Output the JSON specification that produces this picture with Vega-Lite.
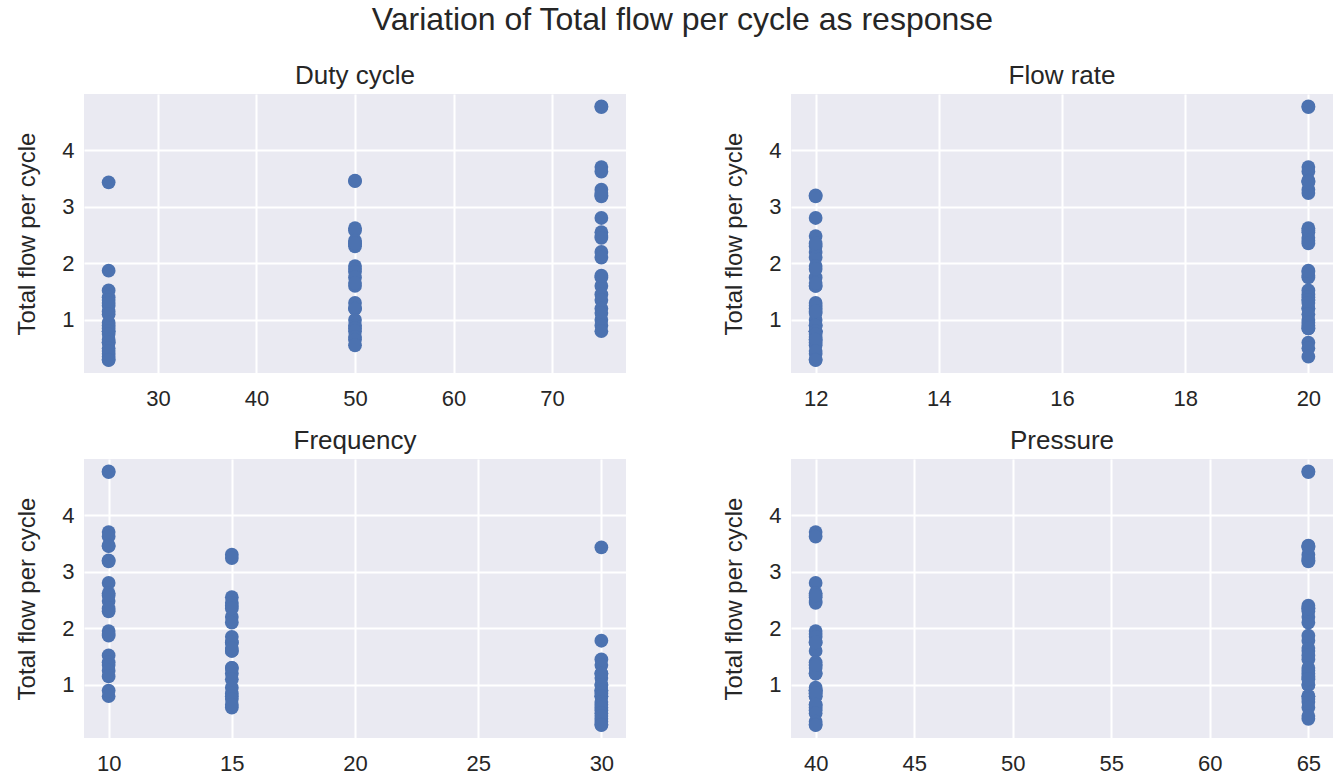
{
  "$schema": "https://vega.github.io/schema/vega-lite/v6.json",
  "background": "white",
  "padding": {"left": 15, "top": 4, "right": 5, "bottom": 5},
  "title": {"text": "Variation of Total flow per cycle as response", "fontSize": 32, "font": "Liberation Sans", "fontWeight": "normal", "color": "#262626", "anchor": "middle", "offset": 26, "dx": 8},
  "data": {"values": [
    {"duty":75,"flow":20,"freq":10,"pressure":65,"total":4.77},{"duty":75,"flow":20,"freq":10,"pressure":65,"total":4.76},
    {"duty":75,"flow":20,"freq":10,"pressure":40,"total":3.70},{"duty":75,"flow":20,"freq":10,"pressure":40,"total":3.62},
    {"duty":75,"flow":12,"freq":10,"pressure":65,"total":3.20},{"duty":75,"flow":12,"freq":10,"pressure":65,"total":3.18},
    {"duty":75,"flow":12,"freq":10,"pressure":40,"total":2.48},{"duty":75,"flow":12,"freq":10,"pressure":40,"total":2.80},
    {"duty":75,"flow":20,"freq":15,"pressure":65,"total":3.30},{"duty":75,"flow":20,"freq":15,"pressure":65,"total":3.24},
    {"duty":75,"flow":20,"freq":15,"pressure":40,"total":2.55},{"duty":75,"flow":20,"freq":15,"pressure":40,"total":2.45},
    {"duty":75,"flow":12,"freq":15,"pressure":65,"total":2.20},{"duty":75,"flow":12,"freq":15,"pressure":65,"total":2.10},
    {"duty":75,"flow":12,"freq":15,"pressure":40,"total":1.75},{"duty":75,"flow":12,"freq":15,"pressure":40,"total":1.60},
    {"duty":75,"flow":20,"freq":30,"pressure":65,"total":1.78},{"duty":75,"flow":20,"freq":30,"pressure":65,"total":1.45},
    {"duty":75,"flow":20,"freq":30,"pressure":40,"total":1.35},{"duty":75,"flow":20,"freq":30,"pressure":40,"total":1.20},
    {"duty":75,"flow":12,"freq":30,"pressure":65,"total":1.00},{"duty":75,"flow":12,"freq":30,"pressure":65,"total":1.12},
    {"duty":75,"flow":12,"freq":30,"pressure":40,"total":0.90},{"duty":75,"flow":12,"freq":30,"pressure":40,"total":0.80},
    {"duty":50,"flow":20,"freq":10,"pressure":65,"total":3.46},{"duty":50,"flow":20,"freq":10,"pressure":65,"total":3.45},
    {"duty":50,"flow":20,"freq":10,"pressure":40,"total":2.62},{"duty":50,"flow":20,"freq":10,"pressure":40,"total":2.58},
    {"duty":50,"flow":12,"freq":10,"pressure":65,"total":2.30},{"duty":50,"flow":12,"freq":10,"pressure":65,"total":2.35},
    {"duty":50,"flow":12,"freq":10,"pressure":40,"total":1.95},{"duty":50,"flow":12,"freq":10,"pressure":40,"total":1.90},
    {"duty":50,"flow":20,"freq":15,"pressure":65,"total":2.40},{"duty":50,"flow":20,"freq":15,"pressure":65,"total":2.35},
    {"duty":50,"flow":20,"freq":15,"pressure":40,"total":1.85},{"duty":50,"flow":20,"freq":15,"pressure":40,"total":1.75},
    {"duty":50,"flow":12,"freq":15,"pressure":65,"total":1.60},{"duty":50,"flow":12,"freq":15,"pressure":65,"total":1.65},
    {"duty":50,"flow":12,"freq":15,"pressure":40,"total":1.30},{"duty":50,"flow":12,"freq":15,"pressure":40,"total":1.20},
    {"duty":50,"flow":20,"freq":30,"pressure":65,"total":1.20},{"duty":50,"flow":20,"freq":30,"pressure":65,"total":1.00},
    {"duty":50,"flow":20,"freq":30,"pressure":40,"total":0.90},{"duty":50,"flow":20,"freq":30,"pressure":40,"total":0.85},
    {"duty":50,"flow":12,"freq":30,"pressure":65,"total":0.80},{"duty":50,"flow":12,"freq":30,"pressure":65,"total":0.70},
    {"duty":50,"flow":12,"freq":30,"pressure":40,"total":0.65},{"duty":50,"flow":12,"freq":30,"pressure":40,"total":0.55},
    {"duty":25,"flow":20,"freq":10,"pressure":65,"total":1.87},{"duty":25,"flow":20,"freq":10,"pressure":65,"total":1.52},
    {"duty":25,"flow":20,"freq":10,"pressure":40,"total":1.40},{"duty":25,"flow":20,"freq":10,"pressure":40,"total":1.35},
    {"duty":25,"flow":12,"freq":10,"pressure":65,"total":1.25},{"duty":25,"flow":12,"freq":10,"pressure":65,"total":1.15},
    {"duty":25,"flow":12,"freq":10,"pressure":40,"total":0.80},{"duty":25,"flow":12,"freq":10,"pressure":40,"total":0.90},
    {"duty":25,"flow":20,"freq":15,"pressure":65,"total":1.30},{"duty":25,"flow":20,"freq":15,"pressure":65,"total":1.10},
    {"duty":25,"flow":20,"freq":15,"pressure":40,"total":0.95},{"duty":25,"flow":20,"freq":15,"pressure":40,"total":0.85},
    {"duty":25,"flow":12,"freq":15,"pressure":65,"total":0.80},{"duty":25,"flow":12,"freq":15,"pressure":65,"total":0.75},
    {"duty":25,"flow":12,"freq":15,"pressure":40,"total":0.60},{"duty":25,"flow":12,"freq":15,"pressure":40,"total":0.65},
    {"duty":25,"flow":20,"freq":30,"pressure":65,"total":3.43},{"duty":25,"flow":20,"freq":30,"pressure":65,"total":0.60},
    {"duty":25,"flow":20,"freq":30,"pressure":40,"total":0.50},{"duty":25,"flow":20,"freq":30,"pressure":40,"total":0.35},
    {"duty":25,"flow":12,"freq":30,"pressure":65,"total":0.40},{"duty":25,"flow":12,"freq":30,"pressure":65,"total":0.45},
    {"duty":25,"flow":12,"freq":30,"pressure":40,"total":0.30},{"duty":25,"flow":12,"freq":30,"pressure":40,"total":0.29}
  ]},
  "columns": 2,
  "bounds": "flush",
  "spacing": {"row": 86, "column": 165},
  "concat": [
    {
      "title": "Duty cycle",
      "width": 542, "height": 279,
      "mark": {"type": "circle", "size": 190, "opacity": 1, "color": "#4C72B0"},
      "encoding": {
        "x": {"field": "duty", "type": "quantitative", "scale": {"domain": [22.5, 77.5], "nice": false, "zero": false}, "axis": {"values": [30, 40, 50, 60, 70], "title": null}},
        "y": {"field": "total", "type": "quantitative", "scale": {"domain": [0.062, 4.99], "nice": false, "zero": false}, "axis": {"values": [1, 2, 3, 4], "title": "Total flow per cycle"}}
      }
    },
    {
      "title": "Flow rate",
      "width": 542, "height": 279,
      "mark": {"type": "circle", "size": 190, "opacity": 1, "color": "#4C72B0"},
      "encoding": {
        "x": {"field": "flow", "type": "quantitative", "scale": {"domain": [11.6, 20.4], "nice": false, "zero": false}, "axis": {"values": [12, 14, 16, 18, 20], "title": null}},
        "y": {"field": "total", "type": "quantitative", "scale": {"domain": [0.062, 4.99], "nice": false, "zero": false}, "axis": {"values": [1, 2, 3, 4], "title": "Total flow per cycle"}}
      }
    },
    {
      "title": "Frequency",
      "width": 542, "height": 279,
      "mark": {"type": "circle", "size": 190, "opacity": 1, "color": "#4C72B0"},
      "encoding": {
        "x": {"field": "freq", "type": "quantitative", "scale": {"domain": [9, 31], "nice": false, "zero": false}, "axis": {"values": [10, 15, 20, 25, 30], "title": null}},
        "y": {"field": "total", "type": "quantitative", "scale": {"domain": [0.062, 4.99], "nice": false, "zero": false}, "axis": {"values": [1, 2, 3, 4], "title": "Total flow per cycle"}}
      }
    },
    {
      "title": "Pressure",
      "width": 542, "height": 279,
      "mark": {"type": "circle", "size": 190, "opacity": 1, "color": "#4C72B0"},
      "encoding": {
        "x": {"field": "pressure", "type": "quantitative", "scale": {"domain": [38.75, 66.25], "nice": false, "zero": false}, "axis": {"values": [40, 45, 50, 55, 60, 65], "title": null}},
        "y": {"field": "total", "type": "quantitative", "scale": {"domain": [0.062, 4.99], "nice": false, "zero": false}, "axis": {"values": [1, 2, 3, 4], "title": "Total flow per cycle"}}
      }
    }
  ],
  "config": {
    "font": "Liberation Sans",
    "view": {"fill": "#EAEAF2", "stroke": null},
    "axis": {
      "grid": true, "gridColor": "#FFFFFF", "gridWidth": 2, "domain": false, "ticks": false,
      "labelFont": "Liberation Sans", "labelFontSize": 22, "labelColor": "#262626", "labelPadding": 10,
      "titleFont": "Liberation Sans", "titleFontSize": 24, "titleFontWeight": "normal", "titleColor": "#262626", "titlePadding": 22
    },
    "axisX": {"labelPadding": 15},
    "title": {"font": "Liberation Sans", "fontSize": 26, "fontWeight": "normal", "color": "#262626", "offset": 5}
  }
}
